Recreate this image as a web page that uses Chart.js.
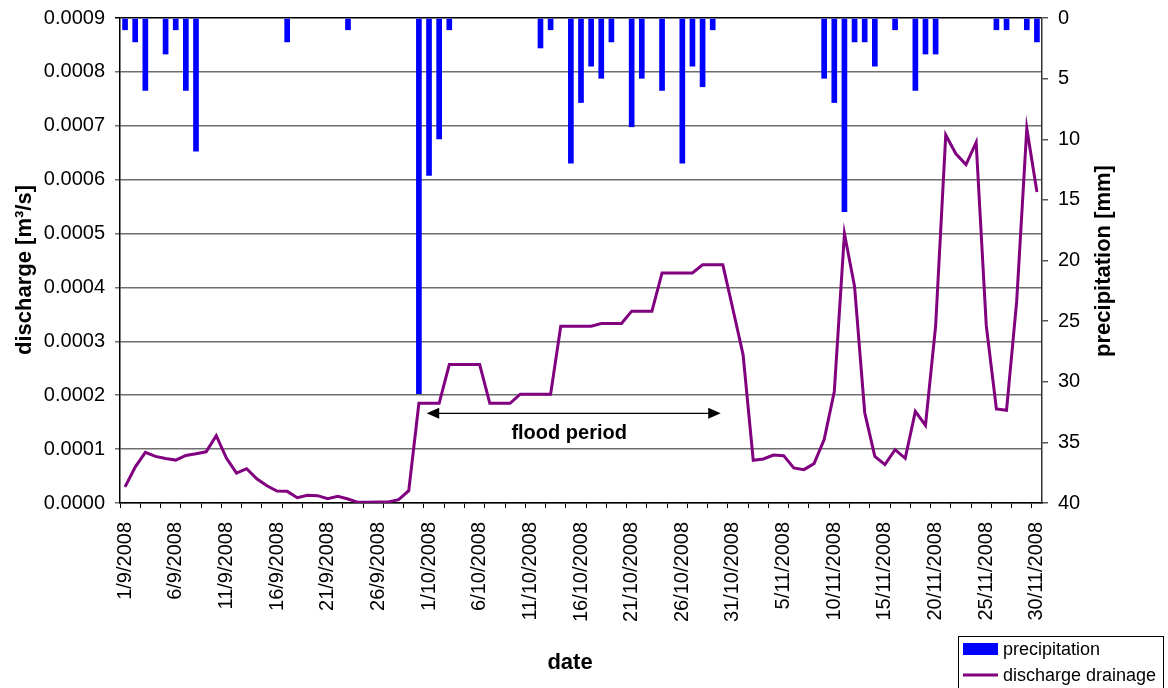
<!DOCTYPE html>
<html>
<head>
<meta charset="utf-8">
<script src="https://cdn.jsdelivr.net/npm/chart.js@4.4.0/dist/chart.umd.min.js"></script>
<style>
    html, body { margin: 0; padding: 0; background: #fff; }
    #wrap { width: 1168px; height: 688px; }
</style>
</head>
<body>
<div id="wrap"><canvas id="chart" width="1168" height="688"></canvas></div>
<script>
// --- Data ---
const months = [[9, 30], [10, 31], [11, 30]];
const dates = [];
months.forEach(([m, n]) => {
    for (let d = 1; d <= n; d++) dates.push(d + '/' + m + '/2008');
});

// daily precipitation [mm], 1/9 .. 30/11
const precipitation = [
    1, 2, 6, 0, 3, 1, 6, 11, 0, 0,
    0, 0, 0, 0, 0, 0, 2, 0, 0, 0,
    0, 0, 1, 0, 0, 0, 0, 0, 0, 31,
    13, 10, 1, 0, 0, 0, 0, 0, 0, 0,
    0, 2.5, 1, 0, 12, 7, 4, 5, 2, 0,
    9, 5, 0, 6, 0, 12, 4, 5.7, 1, 0,
    0, 0, 0, 0, 0, 0, 0, 0, 0, 5,
    7, 16, 2, 2, 4, 0, 1, 0, 6, 3,
    3, 0, 0, 0, 0, 0, 1, 1, 0, 1,
    2,
];

// discharge drainage [m3/s]
const discharge = [
    0.0000300, 0.0000667, 0.0000940, 0.0000865, 0.0000827, 0.0000796, 0.0000883, 0.0000914, 0.0000950, 0.0001250,
    0.0000833, 0.0000556, 0.0000636, 0.0000450, 0.0000320, 0.0000222, 0.0000216, 0.0000099, 0.0000142, 0.0000136,
    0.0000080, 0.0000123, 0.0000074, 0.0000012, 0.0000012, 0.0000019, 0.0000020, 0.0000062, 0.0000228, 0.0001850,
    0.000185, 0.000185, 0.000257, 0.000257, 0.000257, 0.000257, 0.000185, 0.000185, 0.000185, 0.000202,
    0.000202, 0.000202, 0.000202, 0.000328, 0.000328, 0.000328, 0.000328, 0.000333, 0.000333, 0.000333,
    0.000356, 0.000356, 0.000356, 0.000427, 0.000427, 0.000427, 0.000427, 0.000442, 0.000442, 0.000442,
    0.000359, 0.000275, 0.0000792, 0.0000817, 0.0000891, 0.0000879, 0.0000650, 0.0000619, 0.0000730, 0.0001176,
    0.000207, 0.000500, 0.000402, 0.000168, 0.0000866, 0.0000712, 0.0000990, 0.0000829, 0.000170, 0.000144,
    0.000328, 0.000683, 0.000648, 0.000628, 0.000669, 0.000329, 0.0001745, 0.000172, 0.000374, 0.000695,
    0.000577,
];

// flood period arrow (category index / discharge value)
const floodStart = 29.77;
const floodEnd = 58.79;
const floodArrowY = 0.0001665;
const floodLabelX = 43.83;
const floodLabelY = 0.0001293;

const FONT = "'Liberation Sans', Arial, sans-serif";
const tickFont = { family: FONT, size: 20 };

// --- Titles, arrow and legend drawn on top ---
const extras = {
    id: 'extras',
    afterDraw(chart) {
        const ctx = chart.ctx;
        const x = chart.scales.x;
        const y = chart.scales.y;
        ctx.save();
        ctx.fillStyle = '#000';
        ctx.strokeStyle = '#000';

        // axis titles
        ctx.font = 'bold 22px ' + FONT;
        ctx.textAlign = 'center';
        ctx.textBaseline = 'middle';
        ctx.fillText('date', 570, 663);
        [['discharge [m³/s]', 25, 270], ['precipitation [mm]', 1104, 261]].forEach(([t, tx, ty]) => {
            ctx.save();
            ctx.translate(tx, ty);
            ctx.rotate(-Math.PI / 2);
            ctx.fillText(t, 0, 0);
            ctx.restore();
        });

        // flood period arrow
        const x1 = x.getPixelForValue(floodStart);
        const x2 = x.getPixelForValue(floodEnd);
        const ya = y.getPixelForValue(floodArrowY);
        ctx.lineWidth = 1.2;
        ctx.beginPath();
        ctx.moveTo(x1 + 10, ya);
        ctx.lineTo(x2 - 10, ya);
        ctx.stroke();
        ctx.beginPath();
        ctx.moveTo(x1, ya);
        ctx.lineTo(x1 + 12.5, ya - 5.5);
        ctx.lineTo(x1 + 12.5, ya + 5.5);
        ctx.closePath();
        ctx.moveTo(x2, ya);
        ctx.lineTo(x2 - 12.5, ya - 5.5);
        ctx.lineTo(x2 - 12.5, ya + 5.5);
        ctx.closePath();
        ctx.fill();
        ctx.font = 'bold 20px ' + FONT;
        ctx.fillText('flood period', x.getPixelForValue(floodLabelX), y.getPixelForValue(floodLabelY));

        // legend
        const ds = chart.data.datasets;
        ctx.lineWidth = 1;
        ctx.strokeRect(958.5, 636.5, 205, 60);
        ctx.fillStyle = ds[0].backgroundColor;
        ctx.fillRect(963, 643, 35, 12);
        ctx.strokeStyle = ds[1].borderColor;
        ctx.lineWidth = 3;
        ctx.beginPath();
        ctx.moveTo(963, 675);
        ctx.lineTo(998, 675);
        ctx.stroke();
        ctx.fillStyle = '#000';
        ctx.font = '18px ' + FONT;
        ctx.textAlign = 'left';
        ctx.fillText(ds[0].label, 1003, 650);
        ctx.fillText(ds[1].label, 1003, 676);
        ctx.restore();
    },
};

// fixed axis box sizes so the plot area sits where it does in the reference
function fixWidth(w) {
    return (s) => {
        s.width = w;
        s.paddingTop = 0;
        s.paddingBottom = 0;
    };
}

const chart = new Chart(document.getElementById('chart').getContext('2d'), {
    type: 'bar',
    data: {
        labels: dates,
        datasets: [{
            type: 'bar',
            label: 'precipitation',
            data: precipitation,
            yAxisID: 'y2',
            backgroundColor: '#0000ff',
            barPercentage: 0.56,
            categoryPercentage: 1,
            order: 2,
        }, {
            type: 'line',
            label: 'discharge drainage',
            data: discharge,
            yAxisID: 'y',
            borderColor: '#800080',
            borderWidth: 3,
            pointRadius: 0,
            tension: 0,
            order: 1,
        }],
    },
    options: {
        responsive: false,
        animation: false,
        layout: { padding: { top: 18, left: 0, right: 0, bottom: 0 } },
        plugins: {
            legend: { display: false },
            tooltip: { enabled: false },
        },
        scales: {
            x: {
                grid: {
                    offset: true,
                    drawOnChartArea: false,
                    tickLength: 5,
                    tickColor: (c) => (c.index % 2 === 0 ? '#000' : 'rgba(0,0,0,0)'),
                },
                border: { color: '#000', width: 1.5 },
                ticks: {
                    autoSkip: false,
                    minRotation: 90,
                    maxRotation: 90,
                    padding: 14,
                    color: '#000',
                    font: tickFont,
                    callback: (v, i) => (i % 5 === 0 ? dates[i] : ''),
                },
                afterFit: (s) => {
                    s.height = 185;
                    s.paddingLeft = 0;
                    s.paddingRight = 0;
                },
            },
            y: {
                position: 'left',
                min: 0,
                max: 0.0009,
                ticks: {
                    stepSize: 0.0001,
                    padding: 10,
                    color: '#000',
                    font: tickFont,
                    callback: (v) => v.toFixed(4),
                },
                grid: {
                    color: (c) => (c.tick && c.tick.value > 0.00089 ? '#000' : '#6e6e6e'),
                    lineWidth: 1.5,
                    tickLength: 5,
                },
                border: { color: '#000', width: 1.5 },
                afterFit: fixWidth(120),
            },
            y2: {
                position: 'right',
                reverse: true,
                min: 0,
                max: 40,
                ticks: { stepSize: 5, padding: 10, color: '#000', font: tickFont },
                grid: { drawOnChartArea: false, tickLength: 6, color: '#555', lineWidth: 1.5 },
                border: { color: '#333', width: 1.5 },
                afterFit: fixWidth(126),
            },
        },
    },
    plugins: [extras],
});
</script>
</body>
</html>
